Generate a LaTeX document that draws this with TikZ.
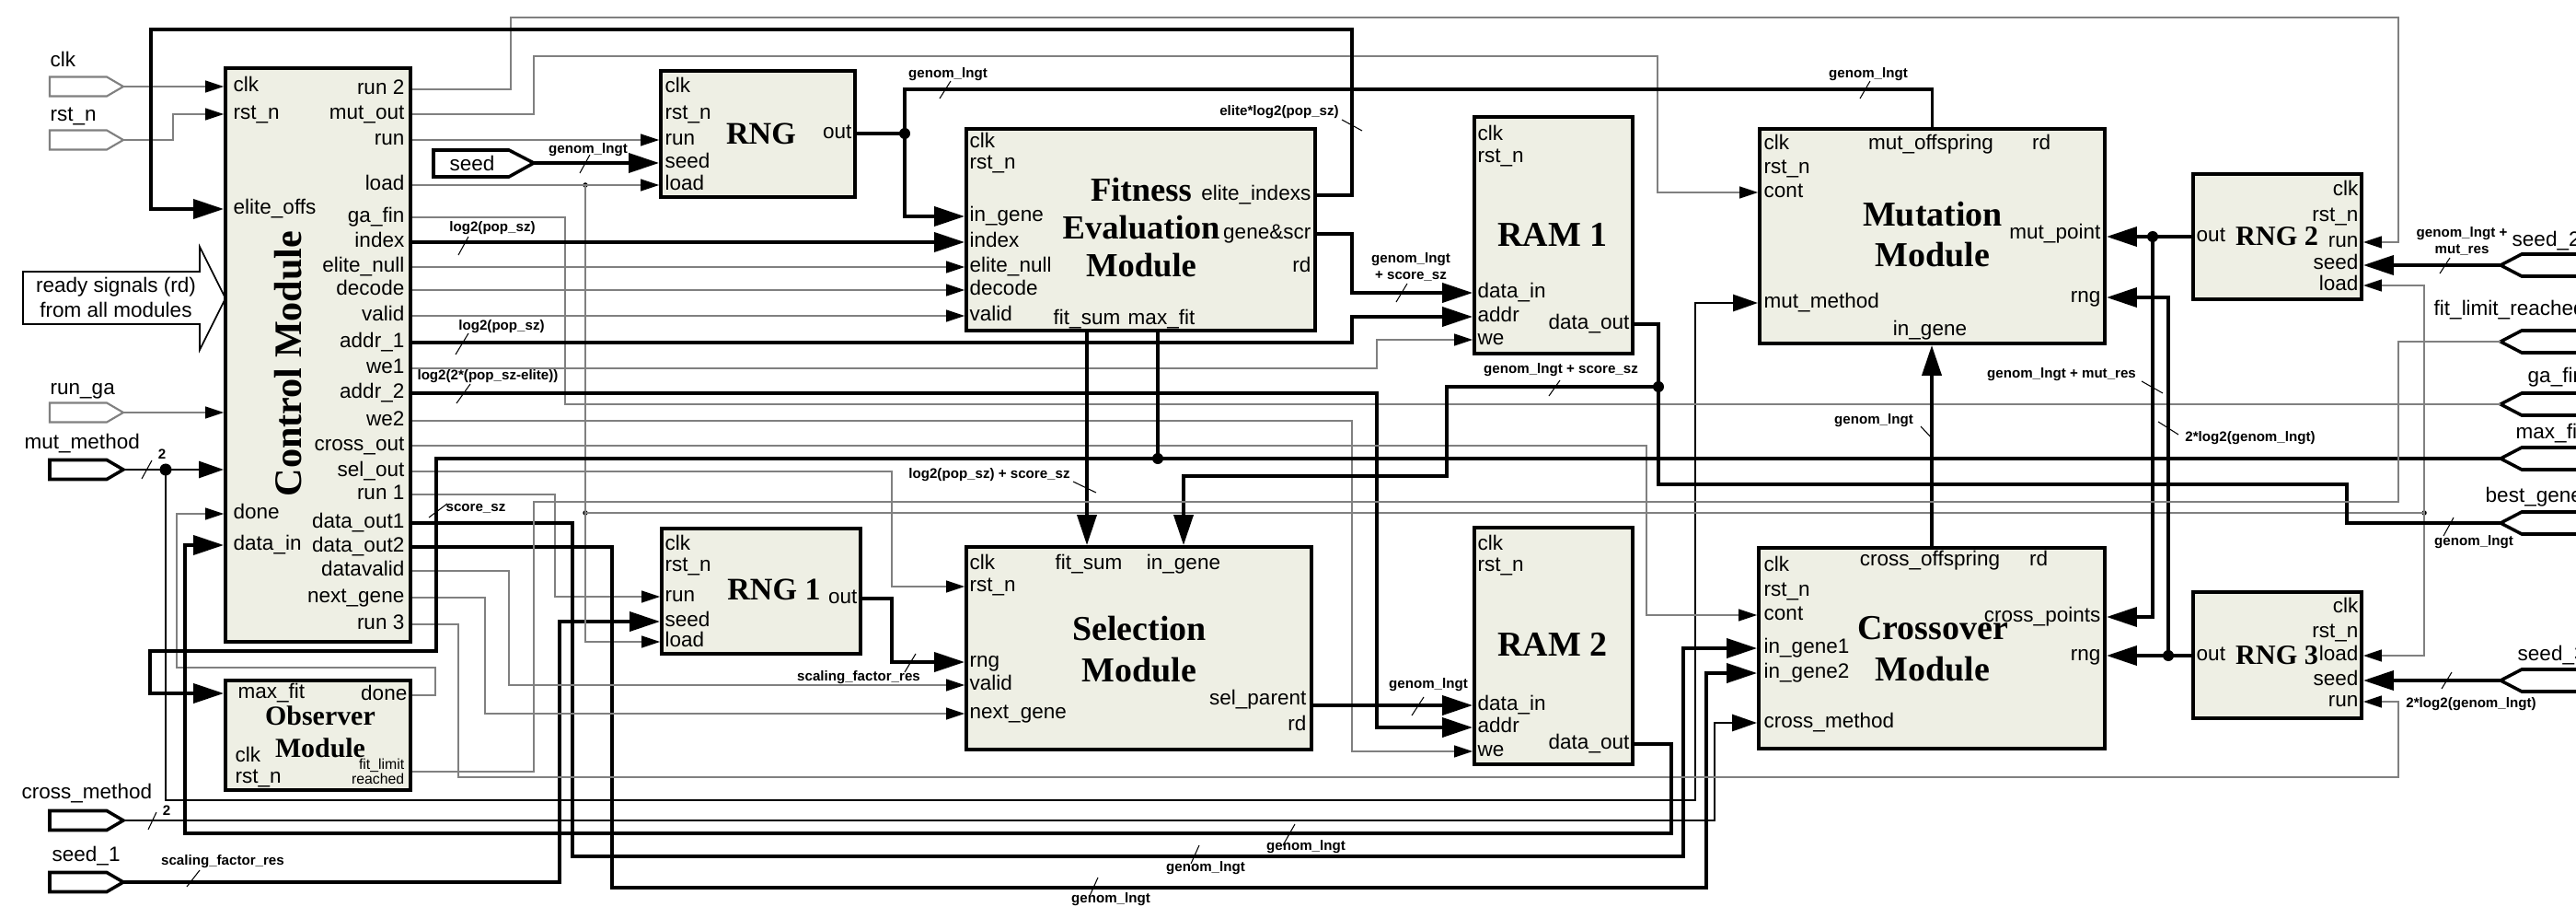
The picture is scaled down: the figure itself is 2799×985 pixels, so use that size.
\documentclass[tikz,border=0pt]{standalone}
\usepackage{fontspec}
\setmainfont{Liberation Sans}
\newfontfamily\titlefont{Liberation Serif}
\usetikzlibrary{arrows.meta, fit}
\definecolor{boxfill}{HTML}{EEEFE4}
\definecolor{wgrey}{HTML}{808080}
\tikzset{
  every picture/.style={font=\fontsize{6.4}{7.6}\selectfont},
  block/.style={draw, line width=1.1pt, fill=boxfill, inner sep=0pt},
  ttl/.style={font=\titlefont\bfseries\fontsize{10.8}{12.8}\selectfont, align=center, inner sep=0pt},
  pl/.style={inner sep=0pt, text height=1.6mm, text depth=0.45mm},
  blab/.style={font=\bfseries\fontsize{4.3}{5.1}\selectfont, inner sep=0pt, align=center},
  wire/.style={draw=wgrey, line width=0.4pt},
  sig/.style={draw=black, line width=0.8pt},
  bus/.style={draw=black, line width=1.1pt},
  wa/.style={wire, -{Triangle[length=2mm, width=1.3mm, color=black]}},
  sa/.style={sig, -{Triangle[length=2.7mm, width=1.8mm]}},
  ba/.style={bus, -{Triangle[length=3.3mm, width=2.1mm]}},
  slash/.style={draw=black, line width=0.3pt},
  jdot/.style={circle, fill=black, inner sep=0pt, minimum size=#1},
  jdot/.default=1.2mm,
  insig/.style={draw=wgrey, line width=0.6pt},
  portb/.style={draw=black, line width=1pt},
}

\begin{document}
\begin{tikzpicture}[x=0.01cm, y=-0.01cm]
  \useasboundingbox (0,0) rectangle (2799,985);
  % modules
  \node[block, fit={(245,74) (446,697)}] (ctrl) {};
  \node[block, fit={(718,77) (929,214)}] (rng) {};
  \node[block, fit={(1050,140) (1429,359)}] (fitness) {};
  \node[block, fit={(1602,127) (1774,384)}] (ram1) {};
  \node[block, fit={(1912,140) (2287,373)}] (mut) {};
  \node[block, fit={(2383,189) (2566,325)}] (rng2) {};
  \node[block, fit={(719,574) (935,710)}] (rng1) {};
  \node[block, fit={(1050,594) (1425,814)}] (sel) {};
  \node[block, fit={(1602,573) (1774,830)}] (ram2) {};
  \node[block, fit={(1911,595) (2287,813)}] (cross) {};
  \node[block, fit={(2383,643) (2566,780)}] (rng3) {};
  \node[block, fit={(245,739) (446,858)}] (obs) {};

  \node[ttl, rotate=90, font=\titlefont\bfseries\fontsize{12}{14}\selectfont] (ctrl-t) at (313,395) {Control Module};
  \node[ttl, font=\titlefont\bfseries\fontsize{9.7}{11}\selectfont] (rng-t) at (827,145) {RNG};
  \node[ttl, font=\titlefont\bfseries\fontsize{10.4}{11.7}\selectfont] (fitness-t) at (1240,247) {Fitness\\Evaluation\\Module};
  \node[ttl] (ram1-t) at (1687,255) {RAM 1};
  \node[ttl, font=\titlefont\bfseries\fontsize{10.8}{12.5}\selectfont] (mut-t) at (2100,255) {Mutation\\Module};
  \node[ttl, font=\titlefont\bfseries\fontsize{8.6}{10}\selectfont] (rng2-t) at (2474,257) {RNG 2};
  \node[ttl, font=\titlefont\bfseries\fontsize{9.7}{11}\selectfont] (rng1-t) at (841,640) {RNG 1};
  \node[ttl] (sel-t) at (1238,705) {Selection\\Module};
  \node[ttl] (ram2-t) at (1687,700) {RAM 2};
  \node[ttl] (cross-t) at (2100,705) {Crossover\\Module};
  \node[ttl, font=\titlefont\bfseries\fontsize{8.6}{10}\selectfont] (rng3-t) at (2474,712) {RNG 3};
  \node[ttl, font=\titlefont\bfseries\fontsize{8.5}{10}\selectfont] (obs-t) at (348,795) {Observer\\Module};

  % port labels
  \foreach \y/\t/\n in {94/clk/clk, 124/rst\_n/rst, 227/elite\_offs/eoffs, 558/done/done, 592/data\_in/din}
    \node[pl, anchor=west] (c-\n) at (253,\y) {\t};
  \foreach \y/\t/\n in {97/run 2/run2, 124/mut\_out/mout, 152/run/run, 201/load/load, 236/ga\_fin/gafin,
      263/index/index, 290/elite\_null/enull, 315/decode/decode, 343/valid/valid, 372/addr\_1/addr1,
      400/we1/we1, 427/addr\_2/addr2, 457/we2/we2, 484/cross\_out/cout, 512/sel\_out/sout, 537/run 1/run1,
      568/data\_out1/dout1, 594/data\_out2/dout2, 620/datavalid/dvalid, 649/next\_gene/next, 678/run 3/run3}
    \node[pl, anchor=east] (c-\n) at (440,\y) {\t};
  \foreach \y/\t/\n in {95/clk/clk, 124/rst\_n/rst, 152/run/run, 177/seed/seed, 201/load/load}
    \node[pl, anchor=west] (r0-\n) at (722,\y) {\t};
  \node[pl, anchor=east] (r0-out) at (926,145) {out};
  \foreach \y/\t/\n in {155/clk/clk, 178/rst\_n/rst, 235/in\_gene/ingene, 263/index/index,
      290/elite\_null/enull, 315/decode/decode, 343/valid/valid}
    \node[pl, anchor=west] (f-\n) at (1053,\y) {\t};
  \foreach \y/\t/\n in {212/elite\_indexs/eidx, 254/gene\&scr/gscr, 290/rd/rd}
    \node[pl, anchor=east] (f-\n) at (1425,\y) {\t};
  \node[pl] (f-fsum) at (1181,347) {fit\_sum};
  \node[pl] (f-mfit) at (1262,347) {max\_fit};
  \foreach \y/\t/\n in {147/clk/clk, 171/rst\_n/rst, 318/data\_in/din, 344/addr/addr, 369/we/we}
    \node[pl, anchor=west] (a1-\n) at (1605,\y) {\t};
  \node[pl, anchor=east] (a1-dout) at (1771,352) {data\_out};
  \foreach \y/\t/\n in {592/clk/clk, 615/rst\_n/rst, 766/data\_in/din, 790/addr/addr, 816/we/we}
    \node[pl, anchor=west] (a2-\n) at (1605,\y) {\t};
  \node[pl, anchor=east] (a2-dout) at (1771,808) {data\_out};
  \foreach \y/\t/\n in {157/clk/clk, 183/rst\_n/rst, 209/cont/cont, 329/mut\_method/mmeth}
    \node[pl, anchor=west] (m-\n) at (1916,\y) {\t};
  \node[pl] (m-moff) at (2098,157) {mut\_offspring};
  \node[pl] (m-rd) at (2218,157) {rd};
  \node[pl, anchor=east] (m-mpt) at (2283,254) {mut\_point};
  \node[pl, anchor=east] (m-rng) at (2283,323) {rng};
  \node[pl] (m-ingene) at (2097,359) {in\_gene};
  \foreach \y/\t/\n in {615/clk/clk, 642/rst\_n/rst, 668/cont/cont, 704/in\_gene1/ing1,
      731/in\_gene2/ing2, 785/cross\_method/cmeth}
    \node[pl, anchor=west] (x-\n) at (1916,\y) {\t};
  \node[pl] (x-coff) at (2097,609) {cross\_offspring};
  \node[pl] (x-rd) at (2215,609) {rd};
  \node[pl, anchor=east] (x-cpts) at (2283,670) {cross\_points};
  \node[pl, anchor=east] (x-rng) at (2283,712) {rng};
  \foreach \y/\t/\n in {613/clk/clk, 637/rst\_n/rst, 719/rng/rng, 744/valid/valid, 775/next\_gene/next}
    \node[pl, anchor=west] (s-\n) at (1053,\y) {\t};
  \node[pl] (s-fsum) at (1183,613) {fit\_sum};
  \node[pl] (s-ingene) at (1286,613) {in\_gene};
  \node[pl, anchor=east] (s-spar) at (1420,760) {sel\_parent};
  \node[pl, anchor=east] (s-rd) at (1420,788) {rd};
  \foreach \y/\t/\n in {592/clk/clk, 615/rst\_n/rst, 648/run/run, 675/seed/seed, 697/load/load}
    \node[pl, anchor=west] (r1-\n) at (722,\y) {\t};
  \node[pl, anchor=east] (r1-out) at (932,650) {out};
  \foreach \y/\t/\n in {207/clk/clk, 235/rst\_n/rst, 263/run/run, 287/seed/seed, 310/load/load}
    \node[pl, anchor=east] (r2-\n) at (2563,\y) {\t};
  \node[pl, anchor=west] (r2-out) at (2386,257) {out};
  \foreach \y/\t/\n in {660/clk/clk, 687/rst\_n/rst, 712/load/load, 739/seed/seed, 762/run/run}
    \node[pl, anchor=east] (r3-\n) at (2563,\y) {\t};
  \node[pl, anchor=west] (r3-out) at (2386,712) {out};
  \node[pl, anchor=west] (o-mfit) at (258,753) {max\_fit};
  \node[pl, anchor=east] (o-done) at (443,755) {done};
  \node[pl, anchor=west] (o-clk) at (255,822) {clk};
  \node[pl, anchor=west] (o-rst) at (255,845) {rst\_n};
  \node[anchor=east, align=right, inner sep=0pt, font=\fontsize{4.5}{4.7}\selectfont] (o-flim) at (440,838) {fit\_limit\\reached};

  % top level inputs and outputs
  \foreach \y/\n/\s in {94/clk/insig, 152/rst/insig, 448/runga/insig, 510/mmeth/portb, 891/cmeth/portb, 958/seed1/portb}{
    \draw[\s] (54,\y-10.5) -- (116,\y-10.5) -- (134,\y) -- (116,\y+10.5) -- (54,\y+10.5) -- cycle;
    \coordinate (in-\n) at (134,\y);
  }
  \draw[portb] (471,163) -- (553,163) -- (580,177) -- (553,192) -- (471,192) -- cycle;
  \coordinate (in-seed) at (580,177);
  \node (l-seed) at (513,177) {seed};
  \foreach \y/\n in {288/seed2, 371/flim, 439/gafin, 498/maxfit, 568/best, 739/seed3}{
    \draw[portb] (2840,\y-12) -- (2740,\y-12) -- (2717,\y) -- (2740,\y+12) -- (2840,\y+12);
    \coordinate (out-\n) at (2717,\y);
  }
  \node[anchor=west, inner sep=0pt] (l-clk) at (54,64) {clk};
  \node[anchor=west, inner sep=0pt] (l-rst) at (54,126) {rst\_n};
  \node[anchor=west, inner sep=0pt] (l-runga) at (54,425) {run\_ga};
  \node[anchor=west, inner sep=0pt] (l-mmeth) at (26,482) {mut\_method};
  \node[anchor=west, inner sep=0pt] (l-cmeth) at (23,862) {cross\_method};
  \node[anchor=west, inner sep=0pt] (l-seed1) at (56,930) {seed\_1};
  \node[anchor=west, inner sep=0pt] (l-seed2) at (2729,262) {seed\_2};
  \node[anchor=west, inner sep=0pt] (l-flim) at (2644,337) {fit\_limit\_reached};
  \node[anchor=west, inner sep=0pt] (l-gafin) at (2746,410) {ga\_fin};
  \node[anchor=west, inner sep=0pt] (l-maxfit) at (2733,471) {max\_fit};
  \node[anchor=west, inner sep=0pt] (l-best) at (2700,540) {best\_gene};
  \node[anchor=west, inner sep=0pt] (l-seed3) at (2735,712) {seed\_3};

  \draw[line width=0.5pt] (25,295) -- (217,295) -- (217,268) -- (245,324) -- (217,380) -- (217,352) -- (25,352) -- cycle;
  \node[align=center, inner sep=0pt] (rdy) at (126,323) {ready signals (rd)\\from all modules};

  % junctions
  \node[jdot] (dR) at (983,145) {};
  \node[jdot] (dM) at (1258,498) {};
  \node[jdot] (dD) at (1802,420) {};
  \node[jdot] (dO2) at (2339,257) {};
  \node[jdot] (dO3) at (2356,712) {};
  \node[jdot=1.3mm] (dMM) at (180,510) {};
  \node[jdot=0.55mm] (dL1) at (636,201) {};
  \node[jdot=0.55mm] (dL2) at (636,557) {};
  \node[jdot=0.55mm] (dL3) at (2634,557) {};

  % connections
  \draw[wa] (in-clk) -- (ctrl.west |- in-clk);
  \draw[wa] (in-rst) -| (188,124) -- (ctrl.west |- c-rst);
  \draw[wa] (in-runga) -- (ctrl.west |- in-runga);
  \draw[sig] (in-mmeth) -- (dMM.center);
  \draw[sa] (dMM.center) -- (ctrl.west |- dMM);
  \draw[sa] (dMM.center) -- (180,869) -| (1842,329) -- (mut.west |- m-mmeth);
  \draw[sa] (in-cmeth) -| (1863,785) -- (cross.west |- x-cmeth);
  \draw[ba] (in-seed1) -| (608,675) -- (rng1.west |- r1-seed);
  \draw[ba] (in-seed) -- (rng.west |- in-seed);
  \draw[ba] (out-seed2) -- (rng2.east |- out-seed2);
  \draw[ba] (out-seed3) -- (rng3.east |- out-seed3);

  \draw[wa] (ctrl.east |- c-run2) -| (555,19) -| (2606,263) -- (rng2.east |- r2-run);
  \draw[wa] (ctrl.east |- c-mout) -| (580,61) -| (1801,209) -- (mut.west |- m-cont);
  \draw[wa] (ctrl.east |- c-run) -- (rng.west |- c-run);
  \draw[wa] (ctrl.east |- c-load) -- (rng.west |- c-load);
  \draw[wire] (dL1.center) -- (dL2.center) -- (dL3.center);
  \draw[wa] (dL2.center) |- (rng1.west |- r1-load);
  \draw[wa] (dL3.center) |- (rng2.east |- r2-load);
  \draw[wa] (dL3.center) |- (rng3.east |- r3-load);
  \draw[wire] (ctrl.east |- c-gafin) -| (614,439) -- (out-gafin);
  \draw[ba] (ctrl.east |- c-index) -- (fitness.west |- c-index);
  \draw[wa] (ctrl.east |- c-enull) -- (fitness.west |- c-enull);
  \draw[wa] (ctrl.east |- c-decode) -- (fitness.west |- c-decode);
  \draw[wa] (ctrl.east |- c-valid) -- (fitness.west |- c-valid);
  \draw[ba] (ctrl.east |- c-addr1) -| (1469,344) -- (ram1.west |- a1-addr);
  \draw[wa] (ctrl.east |- c-we1) -| (1496,369) -- (ram1.west |- a1-we);
  \draw[ba] (ctrl.east |- c-addr2) -| (1496,790) -- (ram2.west |- a2-addr);
  \draw[wa] (ctrl.east |- c-we2) -| (1469,816) -- (ram2.west |- a2-we);
  \draw[wa] (ctrl.east |- c-cout) -| (1789,668) -- (cross.west |- x-cont);
  \draw[wa] (ctrl.east |- c-sout) -| (969,637) -- (sel.west |- s-rst);
  \draw[wa] (ctrl.east |- c-run1) -| (603,648) -- (rng1.west |- r1-run);
  \draw[ba] (ctrl.east |- c-dout1) -| (622,930) -| (1829,704) -- (cross.west |- x-ing1);
  \draw[ba] (ctrl.east |- c-dout2) -| (665,964) -| (1854,731) -- (cross.west |- x-ing2);
  \draw[wa] (ctrl.east |- c-dvalid) -| (553,744) -- (sel.west |- s-valid);
  \draw[wa] (ctrl.east |- c-next) -| (527,775) -- (sel.west |- s-next);
  \draw[wa] (ctrl.east |- c-run3) -| (498,844) -| (2606,762) -- (rng3.east |- r3-run);

  \draw[ba] (fitness.east |- f-eidx) -| (1469,32) -| (164,227) -- (ctrl.west |- c-eoffs);
  \draw[wa] (obs.east |- o-done) -| (473,725) -| (192,558) -- (ctrl.west |- c-done);
  \draw[ba] (ram2.east |- a2-dout) -| (1816,905) -| (201,592) -- (ctrl.west |- c-din);

  \draw[bus] (rng.east |- r0-out) -- (dR.center);
  \draw[ba] (dR.center) |- (fitness.west |- f-ingene);
  \draw[bus] (dR.center) |- (1500,97) -| (mut.north);
  \draw[ba] (fitness.south -| f-fsum) -- (sel.north -| f-fsum);
  \draw[bus] (fitness.south -| dM) -- (dM.center);
  \draw[ba] (dM.center) -| (474,707) -| (163,753) -- (obs.west |- o-mfit);
  \draw[bus] (dM.center) -- (out-maxfit);
  \draw[ba] (fitness.east |- f-gscr) -| (1469,318) -- (ram1.west |- a1-din);
  \draw[bus] (ram1.east |- a1-dout) -| (dD.center);
  \draw[bus] (dD.center) |- (2550,526) |- (out-best);
  \draw[ba] (dD.center) -| (1572,517) -| (sel.north -| s-ingene);
  \draw[ba] (rng1.east |- r1-out) -| (969,719) -- (sel.west |- s-rng);
  \draw[ba] (sel.east |- a2-din) -- (ram2.west |- a2-din);
  \draw[ba] (cross.north) -- (cross.north |- mut.south);
  \draw[bus] (rng2.west |- r2-out) -- (dO2.center);
  \draw[ba] (dO2.center) -- (mut.east |- dO2);
  \draw[ba] (dO2.center) |- (cross.east |- x-cpts);
  \draw[bus] (rng3.west |- r3-out) -- (dO3.center);
  \draw[ba] (dO3.center) -- (cross.east |- dO3);
  \draw[ba] (dO3.center) |- (mut.east |- m-rng);
  \draw[wire] (obs.east |- o-flim) -| (580,545) -| (2606,371) -- (out-flim);

  % bus widths
  \node[blab] (bl-seed) at (639,163) {genom\_lngt};           \draw[slash] (630,188) -- (641,168);
  \node[blab] (bl-index) at (535,248) {log2(pop\_sz)};        \draw[slash] (498,277) -- (509,257);
  \node[blab] (bl-addr1) at (545,355) {log2(pop\_sz)};        \draw[slash] (495,385) -- (509,362);
  \node[blab] (bl-addr2) at (530,409) {log2(2*(pop\_sz-elite))}; \draw[slash] (496,438) -- (511,417);
  \node[blab] (bl-mfit) at (517,552) {score\_sz};             \draw[slash] (466,562) -- (486,547);
  \node[blab] (bl-eidx) at (1390,122) {elite*log2(pop\_sz)};  \draw[slash] (1458,130) -- (1480,142);
  \node[blab] (bl-rng) at (1030,81) {genom\_lngt};            \draw[slash] (1021,107) -- (1033,88);
  \node[blab] (bl-mut) at (2030,81) {genom\_lngt};            \draw[slash] (2021,107) -- (2032,88);
  \node[blab] (bl-gscr) at (1533,290) {genom\_lngt\\+ score\_sz}; \draw[slash] (1517,328) -- (1529,308);
  \node[blab] (bl-dout) at (1696,402) {genom\_lngt + score\_sz}; \draw[slash] (1683,430) -- (1695,413);
  \node[blab] (bl-fsum) at (1075,516) {log2(pop\_sz) + score\_sz}; \draw[slash] (1166,523) -- (1191,535);
  \node[blab] (bl-rng1) at (933,736) {scaling\_factor\_res};  \draw[slash] (983,730) -- (995,710);
  \node[blab] (bl-seed1) at (242,936) {scaling\_factor\_res}; \draw[slash] (203,963) -- (217,945);
  \node[blab] (bl-spar) at (1552,744) {genom\_lngt};          \draw[slash] (1534,777) -- (1547,757);
  \node[blab] (bl-xo) at (2036,457) {genom\_lngt};            \draw[slash] (2087,463) -- (2100,477);
  \node[blab] (bl-o2) at (2240,407) {genom\_lngt + mut\_res}; \draw[slash] (2327,414) -- (2350,427);
  \node[blab] (bl-o3) at (2445,476) {2*log2(genom\_lngt)};    \draw[slash] (2345,458) -- (2367,472);
  \node[blab] (bl-seed2) at (2675,262) {genom\_lngt +\\mut\_res}; \draw[slash] (2651,297) -- (2662,280);
  \node[blab] (bl-seed3) at (2685,765) {2*log2(genom\_lngt)}; \draw[slash] (2653,748) -- (2664,730);
  \node[blab] (bl-best) at (2688,589) {genom\_lngt};          \draw[slash] (2655,582) -- (2666,562);
  \node[blab] (bl-din) at (1419,920) {genom\_lngt};           \draw[slash] (1394,918) -- (1407,895);
  \node[blab] (bl-g1) at (1310,943) {genom\_lngt};            \draw[slash] (1294,938) -- (1303,918);
  \node[blab] (bl-g2) at (1207,977) {genom\_lngt};            \draw[slash] (1184,973) -- (1193,953);
  \node[blab] (bl-mm) at (176,493) {2};                       \draw[slash] (154,520) -- (165,500);
  \node[blab] (bl-cm) at (181,880) {2};                       \draw[slash] (161,901) -- (170,882);
\end{tikzpicture}
\end{document}
